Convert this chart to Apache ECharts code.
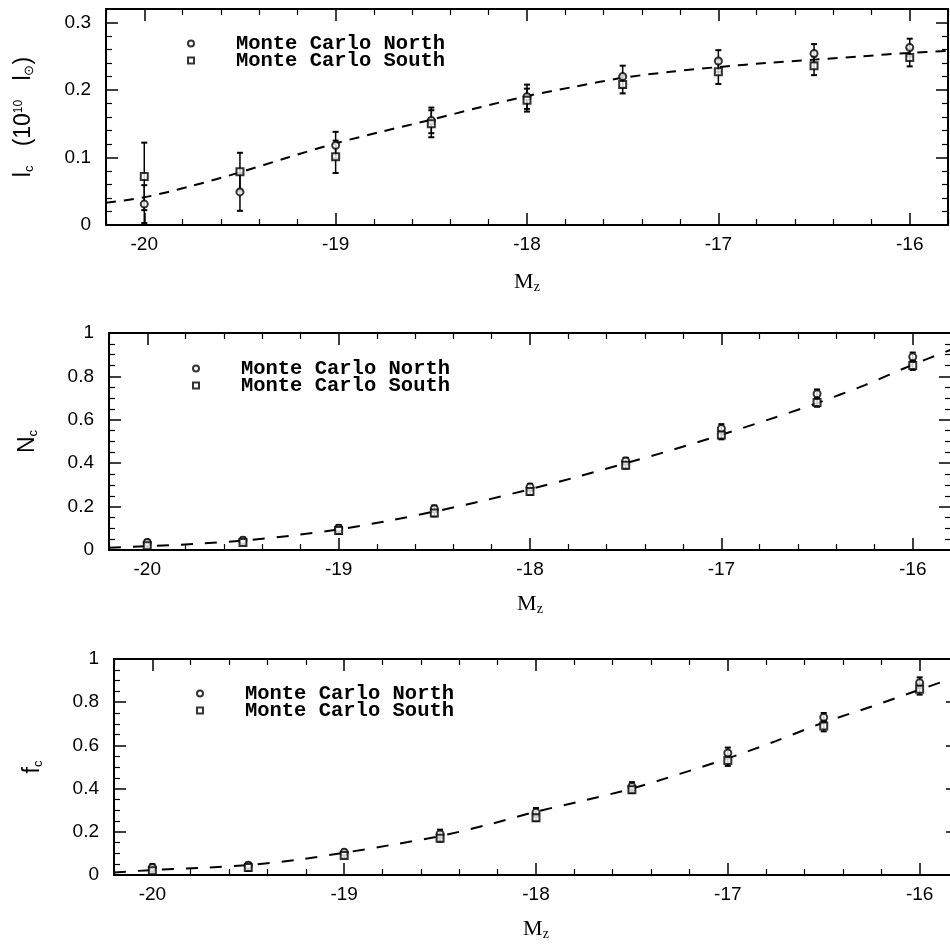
<!DOCTYPE html>
<html><head><meta charset="utf-8">
<script src="https://cdn.jsdelivr.net/npm/echarts@6/dist/echarts.min.js"></script>
<style>html,body{margin:0;padding:0;background:#fff}#c{width:950px;height:944px}</style>
</head><body><div id="c"></div>
<script>
// ---- data ----
const mags = [-20, -19.5, -19, -18.5, -18, -17.5, -17, -16.5, -16];

const icNorth    = [0.031, 0.049, 0.118, 0.155, 0.190, 0.220, 0.243, 0.254, 0.263];
const icNorthErr = [0.028, 0.028, 0.020, 0.019, 0.018, 0.016, 0.016, 0.014, 0.013];
const icSouth    = [0.072, 0.079, 0.101, 0.150, 0.185, 0.208, 0.227, 0.236, 0.248];
const icSouthErr = [0.050, 0.028, 0.024, 0.020, 0.017, 0.013, 0.018, 0.014, 0.013];

const ncNorth    = [0.035, 0.045, 0.100, 0.190, 0.290, 0.410, 0.560, 0.720, 0.890];
const ncNorthErr = [0.012, 0.012, 0.015, 0.015, 0.015, 0.015, 0.020, 0.020, 0.020];
const ncSouth    = [0.020, 0.035, 0.090, 0.170, 0.270, 0.390, 0.530, 0.680, 0.850];
const ncSouthErr = [0.012, 0.010, 0.015, 0.015, 0.015, 0.015, 0.020, 0.020, 0.020];

const fcNorth    = [0.035, 0.045, 0.105, 0.190, 0.290, 0.410, 0.565, 0.730, 0.890];
const fcNorthErr = [0.015, 0.012, 0.012, 0.020, 0.020, 0.020, 0.025, 0.020, 0.025];
const fcSouth    = [0.020, 0.035, 0.090, 0.170, 0.265, 0.395, 0.530, 0.690, 0.860];
const fcSouthErr = [0.012, 0.015, 0.012, 0.015, 0.015, 0.015, 0.025, 0.025, 0.025];

const fitX  = [-20.2, -20, -19.75, -19.5, -19.25, -19, -18.75, -18.5, -18.25, -18, -17.75, -17.5, -17.25, -17, -16.75, -16.5, -16.25, -16, -15.8];
const icFit = [0.033, 0.041, 0.058, 0.078, 0.100, 0.121, 0.139, 0.156, 0.174, 0.191, 0.205, 0.218, 0.227, 0.234, 0.240, 0.245, 0.250, 0.255, 0.258];
const ncFit = [0.010, 0.018, 0.028, 0.043, 0.066, 0.095, 0.133, 0.177, 0.226, 0.280, 0.338, 0.400, 0.463, 0.531, 0.602, 0.677, 0.760, 0.854, 0.923];
const fcFit = [0.012, 0.023, 0.033, 0.046, 0.070, 0.103, 0.140, 0.180, 0.233, 0.293, 0.345, 0.400, 0.468, 0.540, 0.620, 0.706, 0.780, 0.858, 0.920];

const xMajor = [-20, -19, -18, -17, -16];
const xMinor = [-20.2, -19.8, -19.6, -19.4, -19.2, -18.8, -18.6, -18.4, -18.2, -17.8, -17.6, -17.4, -17.2, -16.8, -16.6, -16.4, -16.2, -15.8];
const yMajorTop = [0, 0.1, 0.2, 0.3];
const yMinorTop = [0.02, 0.04, 0.06, 0.08, 0.12, 0.14, 0.16, 0.18, 0.22, 0.24, 0.26, 0.28];
const yMajorFrac = [0, 0.2, 0.4, 0.6, 0.8, 1];
const yMinorFrac = [0.05, 0.1, 0.15, 0.25, 0.3, 0.35, 0.45, 0.5, 0.55, 0.65, 0.7, 0.75, 0.85, 0.9, 0.95];

const legendNames = ['Monte Carlo North', 'Monte Carlo South'];

// ---- layout ----
const grids = [
  {left: 106, width: 842, top: 9, height: 216, outerBoundsMode: 'none'},
  {left: 109, width: 842, top: 333, height: 217, outerBoundsMode: 'none'},
  {left: 114, width: 844, top: 659, height: 216, outerBoundsMode: 'none'}
];
const panels = [
  {yMax: 0.32, yMaj: yMajorTop, yMin: yMinorTop, north: icNorth, nErr: icNorthErr, south: icSouth, sErr: icSouthErr, fit: icFit,
   yName: '{t|l}{s|c}{t|   (10}{p|10}{t|   l}{s|⊙}{t|)}', yGap: 70, xGap: 45, dash: [10, 8], legend: {left: 187, top: 33}},
  {yMax: 1, yMaj: yMajorFrac, yMin: yMinorFrac, north: ncNorth, nErr: ncNorthErr, south: ncSouth, sErr: ncSouthErr, fit: ncFit,
   yName: '{t|N}{s|c}', yGap: 69, xGap: 42, dash: [12, 12], legend: {left: 192, top: 358}},
  {yMax: 1, yMaj: yMajorFrac, yMin: yMinorFrac, north: fcNorth, nErr: fcNorthErr, south: fcSouth, sErr: fcSouthErr, fit: fcFit,
   yName: '{t|f}{s|c}', yGap: 69, xGap: 42, dash: [12, 12], legend: {left: 196, top: 683}}
];

const black = '#000';
const labelFont = {color: black, fontSize: 19, fontFamily: 'Liberation Sans'};
const nameRich = {
  t: {fontSize: 23, fontFamily: 'Liberation Sans', color: black},
  s: {fontSize: 13, fontFamily: 'Liberation Sans', color: black, padding: [11, 0, 0, 0]},
  p: {fontSize: 12, fontFamily: 'Liberation Sans', color: black, padding: [0, 0, 11, 0]}
};
const xNameRich = {
  t: {fontSize: 22, fontFamily: 'Liberation Serif', color: black},
  s: {fontSize: 14, fontFamily: 'Liberation Serif', color: black, padding: [10, 0, 0, 0]}
};

const xAxis = [], yAxis = [], series = [], legend = [];

panels.forEach((p, gi) => {
  const xBase = {gridIndex: gi, type: 'value', min: -20.2, max: -15.8, splitLine: {show: false}};
  xAxis.push(Object.assign({}, xBase, {
    position: 'bottom',
    axisLine: {show: true, onZero: false, lineStyle: {color: black, width: 2}},
    axisTick: {show: true, inside: true, length: 12, customValues: xMajor, lineStyle: {color: black, width: 1.5}},
    axisLabel: Object.assign({show: true, customValues: xMajor, margin: 10}, labelFont),
    name: '{t|M}{s|z}', nameLocation: 'middle', nameGap: p.xGap, nameTextStyle: {rich: xNameRich}
  }));
  xAxis.push(Object.assign({}, xBase, {
    position: 'bottom', axisLine: {show: false, onZero: false},
    axisTick: {show: true, inside: true, length: 6, customValues: xMinor, lineStyle: {color: black, width: 1.2}},
    axisLabel: {show: false}
  }));
  xAxis.push(Object.assign({}, xBase, {
    position: 'top',
    axisLine: {show: true, onZero: false, lineStyle: {color: black, width: 2}},
    axisTick: {show: true, inside: true, length: 12, customValues: xMajor, lineStyle: {color: black, width: 1.5}},
    axisLabel: {show: false}
  }));
  xAxis.push(Object.assign({}, xBase, {
    position: 'top', axisLine: {show: false, onZero: false},
    axisTick: {show: true, inside: true, length: 6, customValues: xMinor, lineStyle: {color: black, width: 1.2}},
    axisLabel: {show: false}
  }));

  const yBase = {gridIndex: gi, type: 'value', min: 0, max: p.yMax, splitLine: {show: false}};
  yAxis.push(Object.assign({}, yBase, {
    position: 'left',
    axisLine: {show: true, onZero: false, lineStyle: {color: black, width: 2}},
    axisTick: {show: true, inside: true, length: 12, customValues: p.yMaj, lineStyle: {color: black, width: 1.5}},
    axisLabel: Object.assign({show: true, customValues: p.yMaj, margin: 15}, labelFont),
    name: p.yName, nameLocation: 'middle', nameRotate: 90, nameGap: p.yGap, nameTextStyle: {rich: nameRich}
  }));
  yAxis.push(Object.assign({}, yBase, {
    position: 'left', axisLine: {show: false, onZero: false},
    axisTick: {show: true, inside: true, length: 6, customValues: p.yMin, lineStyle: {color: black, width: 1.2}},
    axisLabel: {show: false}
  }));
  yAxis.push(Object.assign({}, yBase, {
    position: 'right',
    axisLine: {show: true, onZero: false, lineStyle: {color: black, width: 2}},
    axisTick: {show: true, inside: true, length: 12, customValues: p.yMaj, lineStyle: {color: black, width: 1.5}},
    axisLabel: {show: false}
  }));
  yAxis.push(Object.assign({}, yBase, {
    position: 'right', axisLine: {show: false, onZero: false},
    axisTick: {show: true, inside: true, length: 6, customValues: p.yMin, lineStyle: {color: black, width: 1.2}},
    axisLabel: {show: false}
  }));

  const xi = gi * 4, yi = gi * 4;

  // dashed fit curve
  series.push({
    type: 'line', xAxisIndex: xi, yAxisIndex: yi, smooth: 0.3, symbol: 'none', z: 1,
    data: fitX.map((x, i) => [x, p.fit[i]]),
    lineStyle: {color: black, width: 2, type: p.dash}
  });

  // error bars
  const errData = [];
  mags.forEach((m, i) => {
    errData.push([m, p.north[i] - p.nErr[i], p.north[i] + p.nErr[i]]);
    errData.push([m, p.south[i] - p.sErr[i], p.south[i] + p.sErr[i]]);
  });
  series.push({
    type: 'custom', xAxisIndex: xi, yAxisIndex: yi, z: 2, silent: true,
    encode: {x: 0, y: [1, 2]},
    data: errData,
    renderItem: function (params, api) {
      const x = api.value(0);
      const top = api.coord([x, api.value(2)]);
      const bot = api.coord([x, api.value(1)]);
      const hw = 3;
      const st = {stroke: black, lineWidth: 1.5};
      return {type: 'group', children: [
        {type: 'line', shape: {x1: top[0], y1: top[1], x2: bot[0], y2: bot[1]}, style: st},
        {type: 'line', shape: {x1: top[0] - hw, y1: top[1], x2: top[0] + hw, y2: top[1]}, style: {stroke: black, lineWidth: 2}},
        {type: 'line', shape: {x1: bot[0] - hw, y1: bot[1], x2: bot[0] + hw, y2: bot[1]}, style: {stroke: black, lineWidth: 2}}
      ]};
    }
  });

  series.push({
    name: legendNames[0], type: 'scatter', xAxisIndex: xi, yAxisIndex: yi, z: 3,
    symbol: 'emptyCircle', symbolSize: 7,
    itemStyle: {color: black, borderColor: black, borderWidth: 2},
    data: mags.map((m, i) => [m, p.north[i]])
  });
  series.push({
    name: legendNames[1], type: 'scatter', xAxisIndex: xi, yAxisIndex: yi, z: 3,
    symbol: 'emptyRect', symbolSize: 7,
    itemStyle: {color: black, borderColor: black, borderWidth: 2},
    data: mags.map((m, i) => [m, p.south[i]])
  });

  legend.push({
    data: legendNames, orient: 'vertical', left: p.legend.left, top: p.legend.top,
    itemWidth: 6, itemHeight: 6, itemGap: -4, selectedMode: false, padding: 0,
    itemStyle: {borderWidth: 1.5},
    formatter: '   {name}',
    textStyle: {fontFamily: 'Liberation Mono', fontSize: 20.5, fontWeight: 'bold', color: black}
  });
});

const chart = echarts.init(document.getElementById('c'), null, {renderer: 'canvas'});
chart.setOption({
  animation: false,
  backgroundColor: '#fff',
  grid: grids,
  legend: legend,
  xAxis: xAxis,
  yAxis: yAxis,
  series: series
});
</script>
</body></html>
